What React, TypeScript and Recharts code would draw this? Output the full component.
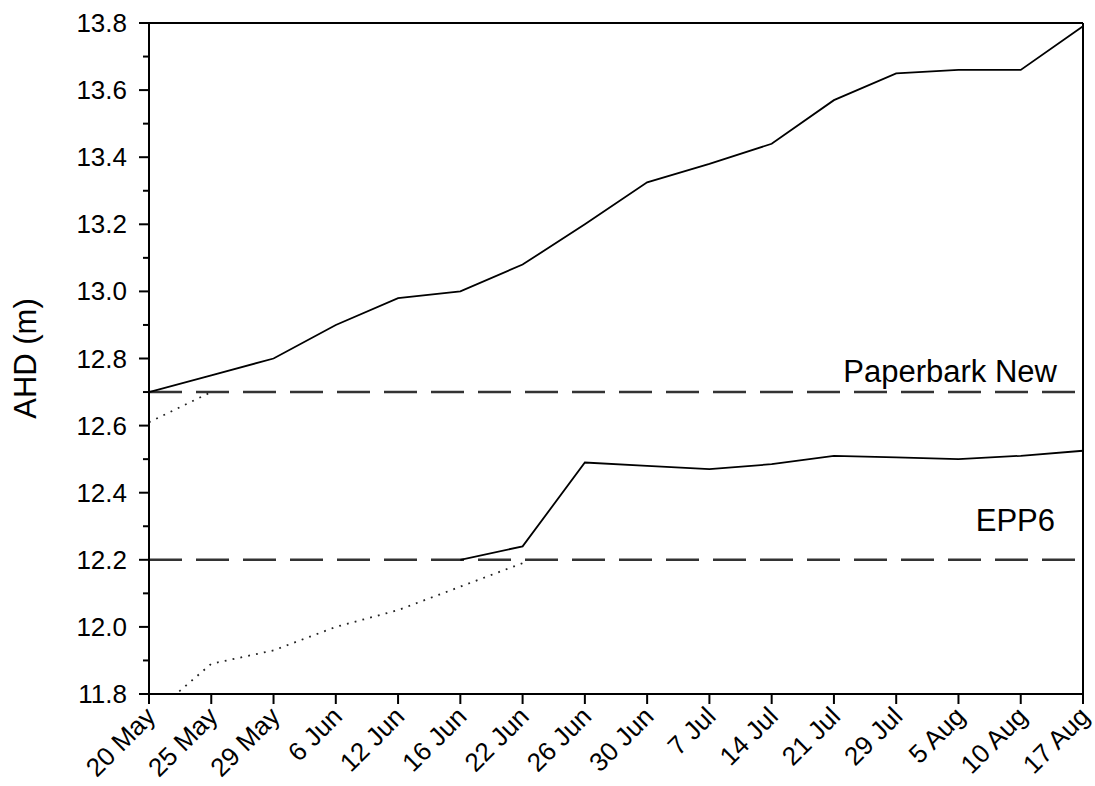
import { Line, LineChart, ReferenceLine, XAxis, YAxis } from 'recharts';

const categories = ['20 May', '25 May', '29 May', '6 Jun', '12 Jun', '16 Jun', '22 Jun', '26 Jun', '30 Jun', '7 Jul', '14 Jul', '21 Jul', '29 Jul', '5 Aug', '10 Aug', '17 Aug'];
const paperbarkNew = [12.7, 12.75, 12.8, 12.9, 12.98, 13.0, 13.08, 13.2, 13.325, 13.38, 13.44, 13.57, 13.65, 13.66, 13.66, 13.79];
const paperbarkEst = [12.61, 12.7, null, null, null, null, null, null, null, null, null, null, null, null, null, null];
const epp6 = [null, null, null, null, null, 12.2, 12.24, 12.49, 12.48, 12.47, 12.485, 12.51, 12.505, 12.5, 12.51, 12.525];
const epp6Est = [11.73, 11.89, 11.93, 12.0, 12.05, 12.12, 12.19, null, null, null, null, null, null, null, null, null];
const yTicks = [11.8, 11.9, 12.0, 12.1, 12.2, 12.3, 12.4, 12.5, 12.6, 12.7, 12.8, 12.9, 13.0, 13.1, 13.2, 13.3, 13.4, 13.5, 13.6, 13.7, 13.8];
const paperbarkLevel = 12.7;
const epp6Level = 12.2;

const data = categories.map((label, i) => ({
  label,
  paperbarkNew: paperbarkNew[i],
  paperbarkEst: paperbarkEst[i],
  epp6: epp6[i],
  epp6Est: epp6Est[i],
}));

const FONT = '"Liberation Sans", Arial, sans-serif';

function YTick({ x, y, payload }: any) {
  const v = payload.value as number;
  const major = Math.round(v * 10) % 2 === 0;
  return (
    <g>
      <line x1={x - (major ? 10 : 6)} x2={x} y1={y} y2={y} stroke="#000" strokeWidth={2} />
      {major && (
        <text x={x - 22} y={y} textAnchor="end" dominantBaseline="central" fontSize={26} fontFamily={FONT} fill="#000">
          {v.toFixed(1)}
        </text>
      )}
    </g>
  );
}

function XTick({ x, y, payload }: any) {
  const tx = x + 8;
  const ty = y + 24;
  return (
    <g>
      <line x1={x} x2={x} y1={y} y2={y + 10} stroke="#000" strokeWidth={2} />
      <text x={tx} y={ty} transform={`rotate(-45 ${tx} ${ty})`} textAnchor="end" fontSize={26} fontFamily={FONT} fill="#000">
        {payload.value}
      </text>
    </g>
  );
}

export default function App() {
  return (
    <div style={{ position: 'absolute', left: 0, top: 0, background: '#fff' }}>
      <LineChart width={1095} height={786} data={data} margin={{ top: 23, right: 12, bottom: 0, left: 0 }}>
        <XAxis
          dataKey="label"
          height={92}
          interval={0}
          tick={<XTick />}
          tickLine={false}
          tickSize={0}
          tickMargin={0}
          axisLine={{ stroke: '#000', strokeWidth: 2 }}
        />
        <YAxis
          width={149}
          domain={[11.8, 13.8]}
          ticks={yTicks}
          allowDataOverflow
          interval={0}
          tick={<YTick />}
          tickLine={false}
          tickSize={0}
          tickMargin={0}
          axisLine={{ stroke: '#000', strokeWidth: 2 }}
          label={{
            content: ({ viewBox }: any) => {
              const cx = viewBox.x + 25;
              const cy = viewBox.y + viewBox.height / 2;
              return (
                <text x={cx} y={cy} transform={`rotate(-90 ${cx} ${cy})`} textAnchor="middle" dominantBaseline="central" fontSize={31} fontFamily={FONT} fill="#000">
                  AHD (m)
                </text>
              );
            },
          }}
        />
        <ReferenceLine y={13.8} stroke="#000" strokeWidth={2} />
        <ReferenceLine x="17 Aug" stroke="#000" strokeWidth={2} />
        <ReferenceLine
          y={paperbarkLevel}
          stroke="#333"
          strokeWidth={2.5}
          strokeDasharray="33 14"
          label={{
            content: ({ viewBox }: any) => (
              <text x={viewBox.x + viewBox.width - 26} y={viewBox.y - 10} textAnchor="end" fontSize={31} fontFamily={FONT} fill="#000">
                Paperbark New
              </text>
            ),
          }}
        />
        <ReferenceLine
          y={epp6Level}
          stroke="#333"
          strokeWidth={2.5}
          strokeDasharray="33 14"
          label={{
            content: ({ viewBox }: any) => (
              <text x={viewBox.x + viewBox.width - 28} y={viewBox.y - 29} textAnchor="end" fontSize={31} fontFamily={FONT} fill="#000">
                EPP6
              </text>
            ),
          }}
        />
        <Line dataKey="paperbarkEst" stroke="#222" strokeWidth={1.8} strokeDasharray="1.8 6.2" dot={false} activeDot={false} isAnimationActive={false} />
        <Line dataKey="epp6Est" stroke="#222" strokeWidth={1.8} strokeDasharray="1.8 6.2" dot={false} activeDot={false} isAnimationActive={false} />
        <Line dataKey="paperbarkNew" stroke="#000" strokeWidth={1.8} dot={false} activeDot={false} isAnimationActive={false} />
        <Line dataKey="epp6" stroke="#000" strokeWidth={1.8} dot={false} activeDot={false} isAnimationActive={false} />
      </LineChart>
    </div>
  );
}
